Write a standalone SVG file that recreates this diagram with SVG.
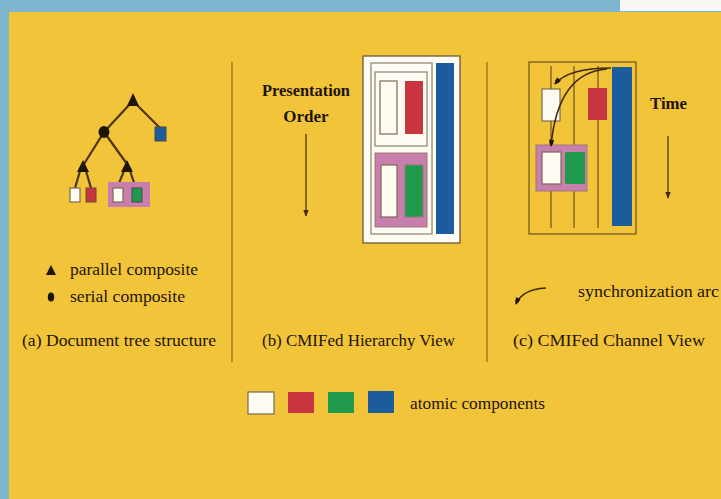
<svg xmlns="http://www.w3.org/2000/svg" width="721" height="499" viewBox="0 0 721 499">
  <defs>
    <style>
      text { font-family: "Liberation Serif", "Times New Roman", serif; font-size: 17px; fill: #1e1405; }
      .bold { font-weight: bold; }
      .edge { stroke: #4a3510; stroke-width: 2.2; fill: none; }
      .thin { stroke: #6b5420; stroke-width: 1.2; fill: none; }
      .sync { stroke: #3e2c0c; stroke-width: 1.6; fill: none; }
      .wht { fill: #fdfbf2; stroke: #7a6a50; stroke-width: 1.2; }
      .red { fill: #c8353f; }
      .grn { fill: #1f9a4c; }
      .blu { fill: #1d5c9c; }
      .pnk { fill: #c97fae; stroke: #9a7a70; stroke-width: 1; }
      .mark { fill: #1e1408; }
    </style>
    <marker id="ah" viewBox="0 0 10 10" refX="9" refY="5" markerWidth="7" markerHeight="7" orient="auto" markerUnits="userSpaceOnUse">
      <path d="M0,1 L10,5 L0,9 z" fill="#3e2c0c"/>
    </marker>
    <marker id="sa" viewBox="0 0 10 10" refX="9" refY="5" markerWidth="8" markerHeight="7" orient="auto" markerUnits="userSpaceOnUse">
      <path d="M0,1.5 Q6,1.5 10,5 Q6,8.5 0,8.5 z" fill="#1e1408"/>
    </marker>
  </defs>

  <!-- page background -->
  <rect x="0" y="0" width="721" height="499" fill="#7db6cf"/>
  <rect x="620" y="0" width="101" height="11" fill="#f8f6f0"/>
  <rect x="9" y="12" width="712" height="487" fill="#f2c43a"/>

  <!-- panel dividers -->
  <g id="dividers">
    <line x1="232" y1="62" x2="232" y2="362" stroke="#8a6a2a" stroke-width="1.2"/>
    <line x1="487" y1="62" x2="487" y2="362" stroke="#8a6a2a" stroke-width="1.2"/>
  </g>

  <!-- (a) tree connectors -->
  <g id="tree-edges">
    <line class="edge" x1="130" y1="104" x2="104" y2="132"/>
    <line class="edge" x1="136" y1="104" x2="160" y2="128"/>
    <line class="edge" x1="104" y1="132" x2="84" y2="164"/>
    <line class="edge" x1="104" y1="132" x2="127" y2="164"/>
    <line class="edge" x1="80" y1="171" x2="75" y2="188"/>
    <line class="edge" x1="86" y1="171" x2="91" y2="188"/>
    <line class="edge" x1="124" y1="171" x2="117" y2="188"/>
    <line class="edge" x1="130" y1="171" x2="136" y2="188"/>
  </g>

  <!-- (a) tree nodes -->
  <g id="tree-root"><polygon class="mark" points="133,93 127,106 139,106"/></g>
  <g id="tree-serial"><ellipse class="mark" cx="104" cy="132" rx="5.5" ry="6"/></g>
  <g id="tree-blue"><rect class="blu" x="155" y="127" width="11" height="14" stroke="#4a4a40" stroke-width="1"/></g>
  <g id="tree-par-left"><polygon class="mark" points="83,160 77,172 89,172"/></g>
  <g id="tree-par-right"><polygon class="mark" points="127,160 121,172 133,172"/></g>
  <g id="tree-white1"><rect class="wht" x="70" y="188" width="10" height="14"/></g>
  <g id="tree-red"><rect class="red" x="86" y="188" width="10" height="14" stroke="#6a4a30" stroke-width="1"/></g>
  <g id="tree-pink"><rect x="108" y="182" width="42" height="25" fill="#c97fae"/></g>
  <g id="tree-white2"><rect class="wht" x="113" y="188" width="10" height="14"/></g>
  <g id="tree-green"><rect class="grn" x="132" y="188" width="10" height="14" stroke="#4a4a40" stroke-width="1"/></g>

  <!-- (a) legend -->
  <g id="legend-a">
    <polygon class="mark" points="51,265 46,275 56,275"/>
    <text x="70" y="275" textLength="128" lengthAdjust="spacingAndGlyphs">parallel composite</text>
    <ellipse class="mark" cx="51" cy="297" rx="3.2" ry="4.5"/>
    <text x="70" y="302" textLength="115" lengthAdjust="spacingAndGlyphs">serial composite</text>
    <text x="22" y="346" textLength="194" lengthAdjust="spacingAndGlyphs">(a) Document tree structure</text>
  </g>

  <!-- (b) hierarchy view -->
  <g id="presentation-order">
    <text class="bold" x="306" y="96" text-anchor="middle" textLength="88" lengthAdjust="spacingAndGlyphs">Presentation</text>
    <text class="bold" x="306" y="122" text-anchor="middle">Order</text>
    <line x1="306" y1="134" x2="306" y2="216" stroke="#3e2c0c" stroke-width="1.2" marker-end="url(#ah)"/>
  </g>
  <g id="hier-outer"><rect x="363" y="56" width="97" height="187" fill="#fdfbf2" stroke="#6b5a38" stroke-width="1.3"/></g>
  <g id="hier-seq"><rect x="371" y="63" width="61" height="171" fill="#fdfbf2" stroke="#8a8070" stroke-width="1.2"/></g>
  <g id="hier-blue"><rect class="blu" x="436" y="63" width="18" height="171"/></g>
  <g id="hier-group1"><rect x="375" y="72" width="52" height="74" fill="#fdfbf2" stroke="#8a8070" stroke-width="1.2"/></g>
  <g id="hier-white1"><rect class="wht" x="380" y="81" width="17" height="53"/></g>
  <g id="hier-red"><rect class="red" x="405" y="81" width="18" height="53"/></g>
  <g id="hier-group2"><rect class="pnk" x="375" y="153" width="52" height="74"/></g>
  <g id="hier-white2"><rect class="wht" x="381" y="165" width="16" height="52"/></g>
  <g id="hier-green"><rect class="grn" x="405" y="165" width="18" height="52" stroke="#8a8070" stroke-width="1"/></g>
  <g id="caption-b"><text x="262" y="346" textLength="193" lengthAdjust="spacingAndGlyphs">(b) CMIFed Hierarchy View</text></g>

  <!-- (c) channel view -->
  <g id="chan-frame">
    <rect class="thin" x="529" y="62" width="107" height="172"/>
    <line class="thin" x1="551" y1="66" x2="551" y2="228"/>
    <line class="thin" x1="574" y1="66" x2="574" y2="228"/>
    <line class="thin" x1="598" y1="66" x2="598" y2="228"/>
  </g>
  <g id="chan-blue"><rect class="blu" x="612" y="67" width="20" height="159"/></g>
  <g id="chan-red"><rect class="red" x="588" y="88" width="19" height="32"/></g>
  <g id="chan-white1"><rect class="wht" x="542" y="89" width="18" height="32"/></g>
  <g id="chan-pink"><rect class="pnk" x="536" y="145" width="51" height="46"/></g>
  <g id="chan-white2"><rect class="wht" x="542" y="152" width="19" height="32"/></g>
  <g id="chan-green"><rect class="grn" x="565" y="152" width="20" height="32"/></g>

  <g id="sync-arcs">
    <path class="sync" d="M611,68 C588,68 566,71 555,84" marker-end="url(#sa)"/>
    <path class="sync" d="M607,69 C578,71 556,92 551,146" marker-end="url(#sa)"/>
  </g>

  <g id="time">
    <text class="bold" x="650" y="109" textLength="37" lengthAdjust="spacingAndGlyphs">Time</text>
    <line x1="668" y1="136" x2="668" y2="198" stroke="#3e2c0c" stroke-width="1.2" marker-end="url(#ah)"/>
  </g>

  <g id="legend-c">
    <path class="sync" d="M546,288 C530,289 520,294 516,304" marker-end="url(#sa)"/>
    <text x="578" y="297" textLength="141" lengthAdjust="spacingAndGlyphs">synchronization arc</text>
  </g>
  <g id="caption-c"><text x="513" y="346" textLength="192" lengthAdjust="spacingAndGlyphs">(c) CMIFed Channel View</text></g>

  <!-- atomic component legend -->
  <g id="legend-atomic">
    <rect class="wht" x="248" y="392" width="26" height="22"/>
    <rect class="red" x="288" y="392" width="26" height="21"/>
    <rect class="grn" x="328" y="392" width="26" height="21"/>
    <rect class="blu" x="368" y="391" width="26" height="22"/>
    <text x="410" y="409" textLength="135" lengthAdjust="spacingAndGlyphs">atomic components</text>
  </g>
</svg>
